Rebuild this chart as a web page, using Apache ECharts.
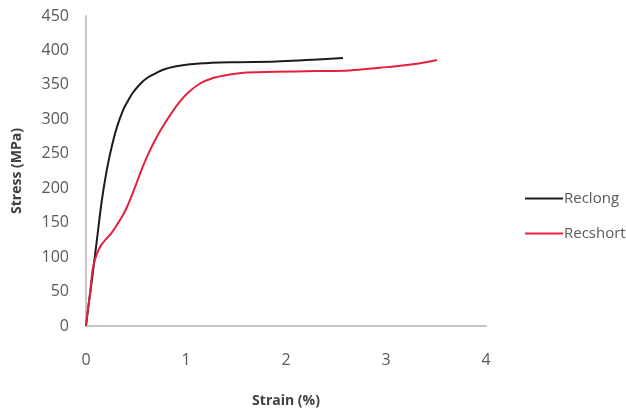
<!DOCTYPE html>
<html>
<head>
<meta charset="utf-8">
<script src="https://cdn.jsdelivr.net/npm/echarts@6/dist/echarts.min.js"></script>
<style>
  html, body { margin: 0; padding: 0; background: #ffffff; }
  #chart { width: 626px; height: 413px; }
</style>
</head>
<body>
<div id="chart"></div>
<script>
// Stress–strain curves for the two specimen orientations
const seriesNames = ['Reclong', 'Recshort'];

const longStrain = [0, 0.03, 0.06, 0.11, 0.16, 0.21, 0.26, 0.31, 0.37, 0.42, 0.47, 0.54, 0.61, 0.70, 0.77, 0.90, 1.04, 1.25, 1.50, 1.90, 2.20, 2.57];
const longStress = [0, 35, 68, 126, 184, 228, 262, 289, 313, 327, 339, 351, 360, 367, 372, 377, 380, 382, 383, 384, 386, 389];

const shortStrain = [0, 0.01, 0.04, 0.07, 0.11, 0.15, 0.20, 0.26, 0.31, 0.37, 0.42, 0.47, 0.52, 0.57, 0.63, 0.71, 0.77, 0.85, 0.94, 1.03, 1.14, 1.25, 1.44, 1.61, 1.90, 2.30, 2.64, 2.94, 3.10, 3.27, 3.40, 3.51];
const shortStress = [0, 14, 47, 85, 105, 117, 126, 136, 147, 161, 176, 194, 213, 232, 252, 275, 290, 308, 326, 340, 352, 359, 365, 368, 369, 370, 371, 375, 377, 380, 383, 386];

const yTicks = { min: 0, max: 450, step: 50 };
const xTicks = { min: 0, max: 4, step: 1 };

const pairs = (xs, ys) => xs.map((x, i) => [x, ys[i]]);

const labelColor = '#595959';
const axisColor = '#c6c6c6';
const fontFamily = '"Open Sans", "Liberation Sans", sans-serif';

const chart = echarts.init(document.getElementById('chart'), null, { renderer: 'canvas' });

chart.setOption({
  animation: false,
  backgroundColor: '#ffffff',
  grid: { left: 86, right: 140, top: 16, bottom: 86 },
  legend: {
    orient: 'vertical',
    left: 520,
    top: 186,
    icon: 'rect',
    itemWidth: 38,
    itemHeight: 2,
    itemGap: 20,
    textStyle: { color: labelColor, fontSize: 15, fontFamily: fontFamily, padding: [0, 0, 0, -4] },
    data: seriesNames
  },
  xAxis: {
    type: 'value',
    min: xTicks.min,
    max: xTicks.max,
    interval: xTicks.step,
    name: 'Strain (%)',
    nameLocation: 'middle',
    nameGap: 68,
    nameTextStyle: { color: '#404040', fontSize: 14, fontWeight: 'bold', fontFamily: fontFamily },
    axisLine: { show: true, lineStyle: { color: axisColor, width: 2 } },
    axisTick: { show: false },
    splitLine: { show: false },
    axisLabel: { color: labelColor, fontSize: 16, margin: 26, fontFamily: fontFamily }
  },
  yAxis: {
    type: 'value',
    min: yTicks.min,
    max: yTicks.max,
    interval: yTicks.step,
    name: 'Stress (MPa)',
    nameLocation: 'middle',
    nameGap: 62,
    nameTextStyle: { color: '#404040', fontSize: 14, fontWeight: 'bold', fontFamily: fontFamily },
    axisLine: { show: true, lineStyle: { color: axisColor, width: 2 } },
    axisTick: { show: false },
    splitLine: { show: false },
    axisLabel: { color: labelColor, fontSize: 16, margin: 17, fontFamily: fontFamily }
  },
  series: [
    {
      name: seriesNames[0],
      type: 'line',
      data: pairs(longStrain, longStress),
      smooth: 0.4,
      symbol: 'none',
      lineStyle: { color: '#1c1c1c', width: 2 },
      itemStyle: { color: '#1c1c1c' }
    },
    {
      name: seriesNames[1],
      type: 'line',
      data: pairs(shortStrain, shortStress),
      smooth: 0.4,
      symbol: 'none',
      lineStyle: { color: '#e3213d', width: 2 },
      itemStyle: { color: '#e3213d' }
    }
  ]
});
</script>
</body>
</html>
